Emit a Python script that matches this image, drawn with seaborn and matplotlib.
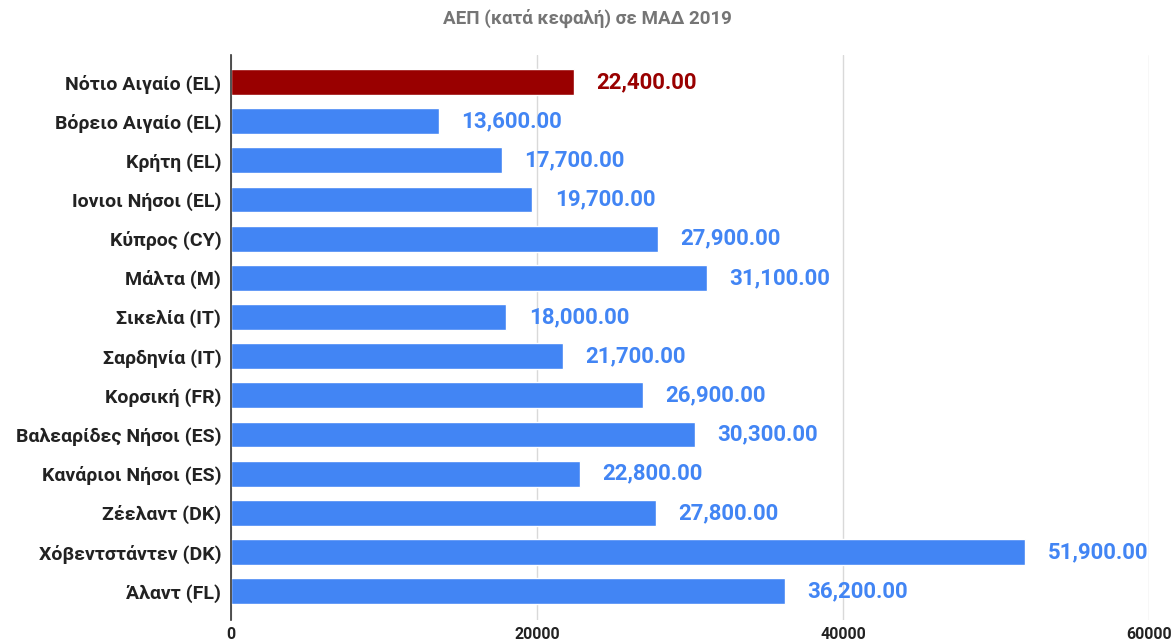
import pandas as pd
import seaborn as sns
import matplotlib.pyplot as plt

# GDP per capita (PPS) 2019 for island regions
regions = [
    "Νότιο Αιγαίο (EL)",
    "Βόρειο Αιγαίο (EL)",
    "Κρήτη (EL)",
    "Ιονιοι Νήσοι (EL)",
    "Κύπρος (CY)",
    "Μάλτα (M)",
    "Σικελία (IT)",
    "Σαρδηνία (IT)",
    "Κορσική (FR)",
    "Βαλεαρίδες Νήσοι (ES)",
    "Κανάριοι Νήσοι (ES)",
    "Ζέελαντ (DK)",
    "Χόβεντστάντεν (DK)",
    "Άλαντ (FL)",
]
gdp = [22400, 13600, 17700, 19700, 27900, 31100, 18000,
       21700, 26900, 30300, 22800, 27800, 51900, 36200]
highlight = "Νότιο Αιγαίο (EL)"

BLUE = "#4285f4"
RED = "#990000"

df = pd.DataFrame({"region": regions, "gdp": gdp})
palette = {r: (RED if r == highlight else BLUE) for r in regions}

sns.set_style("white")
plt.rcParams["font.family"] = ["Roboto", "DejaVu Sans"]

fig = plt.figure(figsize=(11.75, 6.44), dpi=100)
ax = fig.add_axes([0.1966, 0.037, 0.7814, 0.8776])

sns.barplot(data=df, y="region", x="gdp", hue="region", palette=palette,
            orient="h", width=0.66, saturation=1, legend=False, ax=ax, zorder=3)

# value labels
for i, (r, v) in enumerate(zip(regions, gdp)):
    ax.annotate(f"{v:,.2f}", xy=(v, i), xytext=(16, 0), textcoords="offset points",
                va="center", ha="left", fontsize=16, fontweight="bold",
                color=RED if r == highlight else BLUE)

ax.set_xlim(0, 60000)
ax.set_ylim(13.74, -0.69)
ax.set_xticks([0, 20000, 40000, 60000])
ax.set_xticklabels(["0", "20000", "40000", "60000"])
ax.xaxis.grid(True, color="#d9d9d9", linewidth=1, zorder=0)
ax.set_xlabel("")
ax.set_ylabel("")

for s in ["top", "right", "bottom"]:
    ax.spines[s].set_visible(False)
ax.spines["left"].set_color("#333333")
ax.spines["left"].set_linewidth(1.2)
ax.spines["left"].set_zorder(4)

ax.tick_params(axis="both", length=0)
ax.tick_params(axis="y", pad=7)
ax.tick_params(axis="x", pad=5)
for lbl in ax.get_yticklabels():
    lbl.set_fontsize(14)
    lbl.set_fontweight("bold")
    lbl.set_color("#222222")
for lbl in ax.get_xticklabels():
    lbl.set_fontsize(11.5)
    lbl.set_fontweight("bold")
    lbl.set_color("#222222")

fig.text(0.5, 0.972, "ΑΕΠ (κατά κεφαλή) σε ΜΑΔ 2019", ha="center", va="center",
         fontsize=13.5, fontweight="bold", color="#757575")

fig.savefig("out.png", dpi=100)
